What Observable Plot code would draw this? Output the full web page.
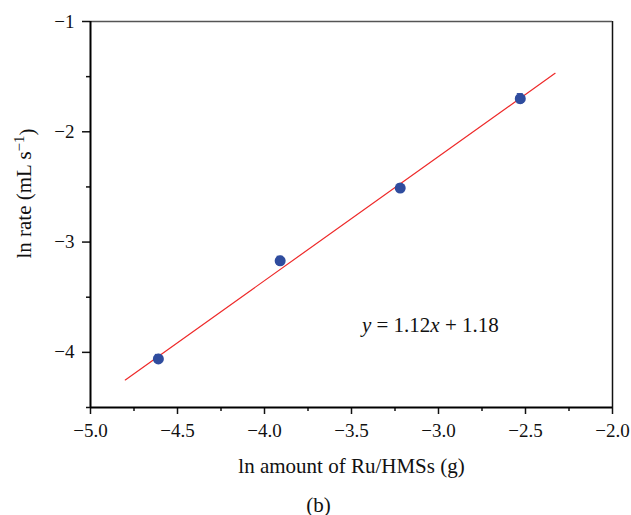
<!DOCTYPE html>
<html>
<head>
<meta charset="utf-8">
<script src="https://cdn.jsdelivr.net/npm/d3@7"></script>
<script src="https://cdn.jsdelivr.net/npm/@observablehq/plot@0.6"></script>
<style>
  html, body { margin: 0; padding: 0; background: #fff; }
  #chart svg { display: block; }
</style>
</head>
<body>
<div id="chart"></div>
<script>
// Data
const lnAmount = [-4.61, -3.91, -3.22, -2.53];
const lnRate = [-4.06, -3.17, -2.51, -1.70];
const rateErr = [0.035, 0.035, 0.03, 0.04];

// Fitted line endpoints as drawn
const fitX = [-4.8, -2.33];
const fitY = [-4.25, -1.47];

const xMajor = [-5.0, -4.5, -4.0, -3.5, -3.0, -2.5, -2.0];
const xMinor = [-4.75, -4.25, -3.75, -3.25, -2.75, -2.25];
const yMajor = [-1, -2, -3, -4];
const yMinor = [-1.5, -2.5, -3.5, -4.5];

const equation = {x: -3.44, y: -3.755, parts: [["y", true], [" = 1.12", false], ["x", true], [" + 1.18", false]]};

const points = lnAmount.map((x, i) => ({x, y: lnRate[i], e: rateErr[i]}));
const fit = fitX.map((x, i) => ({x, y: fitY[i]}));

const font = "'Liberation Serif', 'DejaVu Serif', serif";

const chart = Plot.plot({
  width: 631,
  height: 515,
  marginTop: 21,
  marginRight: 19,
  marginBottom: 108,
  marginLeft: 90,
  style: {fontFamily: font, fontSize: "19px", color: "#111"},
  x: {type: "linear", domain: [-5, -2]},
  y: {type: "linear", domain: [-4.5, -1]},
  marks: [
    Plot.axisX({ticks: xMinor, tickSize: 4, text: null, label: null, strokeWidth: 1.5}),
    Plot.axisX({ticks: xMajor, tickSize: 7, tickPadding: 9, tickFormat: ".1f", fontSize: 19, label: null, strokeWidth: 1.5}),
    Plot.axisY({ticks: yMinor, tickSize: 4, text: null, label: null, strokeWidth: 1.5}),
    Plot.axisY({ticks: yMajor, tickSize: 8, tickPadding: 8, tickFormat: "d", fontSize: 19, label: null, strokeWidth: 1.5}),
    Plot.ruleX([-2], {stroke: "#111", strokeWidth: 1.5}),
    Plot.ruleY([-1], {stroke: "#555", strokeWidth: 1.5}),
    Plot.ruleX([-5], {stroke: "#000", strokeWidth: 2}),
    Plot.ruleY([-4.5], {stroke: "#000", strokeWidth: 2}),
    Plot.line(fit, {x: "x", y: "y", stroke: "#ee2a2a", strokeWidth: 1.2}),
    Plot.ruleX(points, {x: "x", y1: d => d.y - d.e, y2: d => d.y + d.e, stroke: "#3653a5", strokeWidth: 2}),
    Plot.dot(points, {x: "x", y: "y", r: 5.5, fill: "#2f4c9e", stroke: "none"}),
    Plot.text([equation], {x: "x", y: "y", text: d => d.parts.map(p => p[0]).join(""), textAnchor: "start", fontSize: 21, fill: "#111", className: "eq"}),
    Plot.text(["ln amount of Ru/HMSs (g)"], {frameAnchor: "bottom", dy: 65, fontSize: 21, fill: "#111"}),
    Plot.text(["(b)"], {frameAnchor: "bottom", dx: -33, dy: 104, fontSize: 21, fill: "#111"}),
    Plot.text(["ln rate (mL s−1)"], {frameAnchor: "left", textAnchor: "middle", dx: -66, dy: -21, rotate: -90, fontSize: 21, fill: "#111", className: "ylab"})
  ]
});

// Style-only tweaks: small error-bar caps, italic variables, superscript
const svg = d3.select(chart);
const capG = svg.append("g");
const xs = chart.scale("x"), ys = chart.scale("y");
points.forEach(d => {
  [d.y - d.e, d.y + d.e].forEach(v => {
    capG.append("line")
      .attr("x1", xs.apply(d.x) - 3).attr("x2", xs.apply(d.x) + 3)
      .attr("y1", ys.apply(v)).attr("y2", ys.apply(v))
      .attr("stroke", "#3653a5").attr("stroke-width", 1.5);
  });
});
svg.selectAll("g[aria-label='dot']").raise();

svg.select(".eq text").each(function () {
  const t = d3.select(this);
  t.text("");
  equation.parts.forEach(([s, it]) => {
    t.append("tspan").attr("font-style", it ? "italic" : "normal").text(s);
  });
});
svg.select(".ylab text").each(function () {
  const t = d3.select(this);
  t.text("");
  t.append("tspan").text("ln rate (mL s");
  t.append("tspan").attr("dy", "-0.45em").attr("font-size", "15px").text("−1");
  t.append("tspan").attr("dy", "0.45em").text(")");
});

document.getElementById("chart").appendChild(chart);
</script>
</body>
</html>
